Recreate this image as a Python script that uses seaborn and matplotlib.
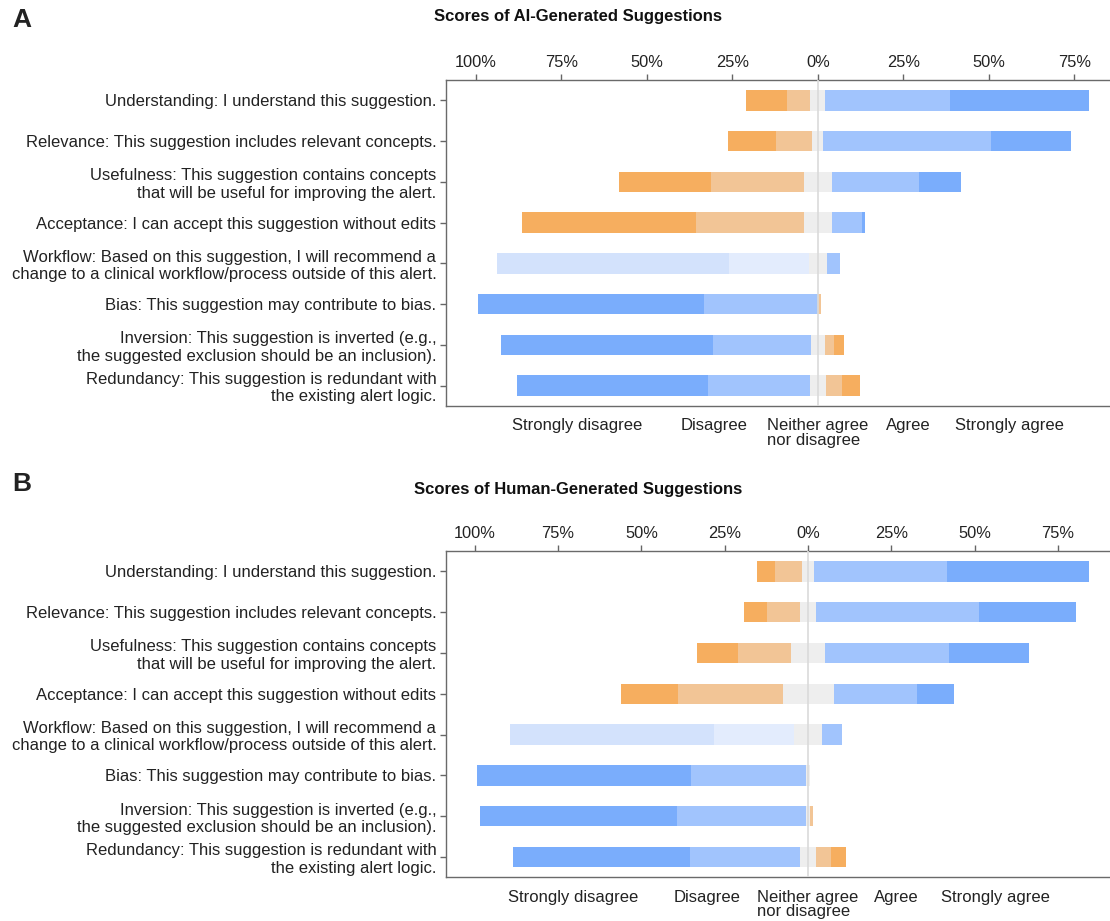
import numpy as np
import pandas as pd
import matplotlib
matplotlib.use('Agg')
import matplotlib.pyplot as plt
import seaborn as sns

sns.set_style('white')
plt.rcParams['font.family'] = ['Liberation Sans', 'DejaVu Sans']

items = [
    "Understanding: I understand this suggestion.",
    "Relevance: This suggestion includes relevant concepts.",
    "Usefulness: This suggestion contains concepts\nthat will be useful for improving the alert.",
    "Acceptance: I can accept this suggestion without edits",
    "Workflow: Based on this suggestion, I will recommend a\nchange to a clinical workflow/process outside of this alert.",
    "Bias: This suggestion may contribute to bias.",
    "Inversion: This suggestion is inverted (e.g.,\nthe suggested exclusion should be an inclusion).",
    "Redundancy: This suggestion is redundant with\nthe existing alert logic.",
]
# which colour scheme each statement uses
kinds = ['pos', 'pos', 'pos', 'pos', 'workflow', 'neg', 'neg', 'neg']

levels = ["Strongly disagree", "Disagree", "Neither agree\nnor disagree", "Agree", "Strongly agree"]
level_x = [-70.5, -30.2, 0, 26.5, 56.1]

# % of responses, AI-generated suggestions
ai_sd = [11.9, 13.9, 27.0, 50.8, 67.7, 65.9, 62.1, 55.7]
ai_d = [6.9, 10.6, 27.2, 31.6, 23.5, 33.3, 28.5, 29.9]
ai_n = [4.4, 3.3, 8.0, 8.2, 5.1, 0.0, 4.1, 4.5]
ai_a = [36.5, 48.9, 25.5, 8.7, 4.0, 0.8, 2.8, 4.9]
ai_sa = [40.6, 23.4, 12.4, 1.0, 0.0, 0.0, 2.7, 5.3]

# % of responses, human-generated suggestions
hu_sd = [5.5, 6.9, 12.5, 17.2, 61.2, 64.0, 59.3, 53.0]
hu_d = [8.2, 9.9, 15.7, 31.3, 24.2, 34.5, 38.6, 33.2]
hu_n = [3.5, 4.8, 10.4, 15.3, 8.2, 1.3, 1.3, 4.7]
hu_a = [39.9, 48.8, 37.2, 25.0, 6.2, 0.0, 0.75, 4.65]
hu_sa = [42.7, 29.3, 24.0, 11.0, 0.0, 0.0, 0.0, 4.25]

orange_dk = '#f6ae5f'
orange_lt = '#f2c596'
grey = '#eeeeee'
blue_lt = '#a1c4fd'
blue_dk = '#7aadfc'
palettes = {
    'pos': [orange_dk, orange_lt, grey, blue_lt, blue_dk],
    'neg': [blue_dk, blue_lt, grey, orange_lt, orange_dk],
    'workflow': ['#d3e2fc', '#e3ecfd', grey, blue_lt, blue_dk],
}


def likert(ax, sd, d, n, a, sa, xlim):
    df = pd.DataFrame({'item': items, 'sd': sd, 'd': d, 'n': n, 'a': a, 'sa': sa})
    half = df['n'] / 2
    # bars drawn from 0 outward, longest first so the inner ones sit on top
    layers = [
        (-(half + df['d'] + df['sd']), 0),
        (-(half + df['d']), 1),
        (-half, 2),
        (half + df['a'] + df['sa'], 4),
        (half + df['a'], 3),
        (half, 2),
    ]
    for edge, lvl in layers:
        df['edge'] = edge
        pal = {it: palettes[k][lvl] for it, k in zip(items, kinds)}
        sns.barplot(data=df, x='edge', y='item', hue='item', palette=pal,
                    legend=False, orient='h', width=0.5, errorbar=None,
                    saturation=1, linewidth=0, ax=ax)

    ax.axvline(0, color='#dadada', lw=1.2, zorder=3)
    ax.set_xlim(*xlim)
    ax.set_ylim(7.5, -0.5)
    ax.set_xlabel('')
    ax.set_ylabel('')

    ticks = [-100, -75, -50, -25, 0, 25, 50, 75]
    ax.xaxis.tick_top()
    ax.set_xticks(ticks)
    ax.set_xticklabels([f"{abs(t)}%" for t in ticks])
    ax.tick_params(axis='x', top=True, bottom=False, length=4, width=1,
                   pad=3, labelsize=11.8, color='#666666', labelcolor='#222222')
    ax.tick_params(axis='y', left=True, length=4, width=1, pad=3,
                   labelsize=12, color='#666666', labelcolor='#222222')

    for side in ['left', 'top', 'bottom']:
        ax.spines[side].set_color('#6a6a6a')
        ax.spines[side].set_linewidth(1.0)
    ax.spines['right'].set_visible(False)

    for lab, xv in zip(levels, level_x):
        ax.annotate(lab, xy=(xv, 0), xycoords=('data', 'axes fraction'),
                    xytext=(0, -9), textcoords='offset points',
                    ha='center', va='top', multialignment='left',
                    fontsize=12, color='#222222', linespacing=0.92)


fig = plt.figure(figsize=(11.1, 9.21), dpi=100)

axA = fig.add_axes([446 / 1110, 0.5592, 664 / 1110, 0.3540])
likert(axA, ai_sd, ai_d, ai_n, ai_a, ai_sa, (-108.7, 85.4))

axB = fig.add_axes([446 / 1110, 0.04745, 664 / 1110, 0.3543])
likert(axB, hu_sd, hu_d, hu_n, hu_a, hu_sa, (-108.6, 90.6))

fig.text(0.521, 1 - 17 / 921, "Scores of AI-Generated Suggestions",
         ha='center', va='center', fontsize=12, fontweight='bold', color='#111111')
fig.text(0.521, 1 - 489 / 921, "Scores of Human-Generated Suggestions",
         ha='center', va='center', fontsize=12, fontweight='bold', color='#111111')
fig.text(0.011, 1 - 20 / 921, "A", ha='left', va='center', fontsize=19,
         fontweight='bold', color='#222222')
fig.text(0.011, 1 - 484 / 921, "B", ha='left', va='center', fontsize=19,
         fontweight='bold', color='#222222')

fig.savefig('out.png', dpi=100)
